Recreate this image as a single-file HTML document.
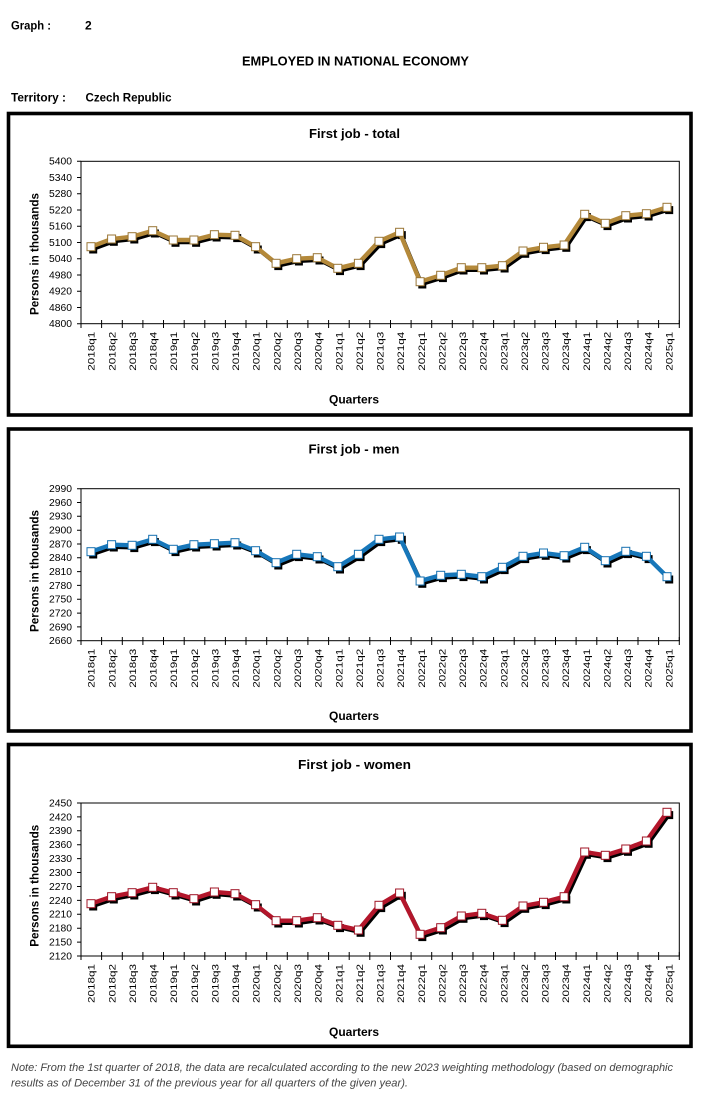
<!DOCTYPE html>
<html>
<head>
<meta charset="utf-8">
<style>
html,body{margin:0;padding:0;background:#fff;}
svg{display:block;}
text{font-family:"Liberation Sans",Arial,sans-serif;fill:#000;}
.b{font-weight:bold;}
.yt{font-size:9.8px;text-anchor:end;}
.xt{font-size:9px;text-anchor:end;}
</style>
</head>
<body>
<svg width="702" height="1093" viewBox="0 0 702 1093" xmlns="http://www.w3.org/2000/svg">
<defs>
<marker id="mk1" markerWidth="10" markerHeight="10" refX="5" refY="5" markerUnits="userSpaceOnUse"><rect x="1" y="1" width="8" height="8" fill="#fff" stroke="#9a7636" stroke-width="1"/></marker>
<marker id="mk2" markerWidth="10" markerHeight="10" refX="5" refY="5" markerUnits="userSpaceOnUse"><rect x="1" y="1" width="8" height="8" fill="#fff" stroke="#1570b0" stroke-width="1"/></marker>
<marker id="mk3" markerWidth="10" markerHeight="10" refX="5" refY="5" markerUnits="userSpaceOnUse"><rect x="1" y="1" width="8" height="8" fill="#fff" stroke="#a01426" stroke-width="1"/></marker>
<marker id="mks" markerWidth="10" markerHeight="10" refX="5" refY="5" markerUnits="userSpaceOnUse"><rect x="1" y="1" width="8" height="8" fill="#000"/></marker>
</defs>

<!-- Header -->
<text class="b" x="11" y="29.5" font-size="12" textLength="40" lengthAdjust="spacingAndGlyphs">Graph :</text>
<text class="b" x="85" y="29.5" font-size="12">2</text>
<text class="b" x="355.5" y="65.5" font-size="12.8" text-anchor="middle" textLength="227" lengthAdjust="spacingAndGlyphs">EMPLOYED IN NATIONAL ECONOMY</text>
<text class="b" x="11" y="101.5" font-size="12" textLength="55" lengthAdjust="spacingAndGlyphs">Territory :</text>
<text class="b" x="85.5" y="101.5" font-size="12" textLength="86" lengthAdjust="spacingAndGlyphs">Czech Republic</text>

<!-- Boxes -->
<rect x="8.5" y="113.5" width="682.5" height="301.5" fill="none" stroke="#000" stroke-width="3.6"/>
<rect x="8.5" y="429" width="682.5" height="302" fill="none" stroke="#000" stroke-width="3.6"/>
<rect x="8.5" y="744.5" width="682.5" height="301.8" fill="none" stroke="#000" stroke-width="3.6"/>

<!-- ================= CHART 1 ================= -->
<text class="b" x="354.5" y="138" font-size="13" text-anchor="middle" textLength="91" lengthAdjust="spacingAndGlyphs">First job - total</text>
<rect x="81" y="161.3" width="598.3" height="162.4" fill="none" stroke="#000" stroke-width="1"/>
<path d="M77 161.3H81M77 177.5H81M77 193.8H81M77 210H81M77 226.3H81M77 242.5H81M77 258.7H81M77 275H81M77 291.2H81M77 307.5H81M77 323.7H81" stroke="#000" stroke-width="1"/>
<path d="M81 320V328M101.6 320V328M122.3 320V328M142.9 320V328M163.5 320V328M184.2 320V328M204.8 320V328M225.4 320V328M246 320V328M266.7 320V328M287.3 320V328M307.9 320V328M328.6 320V328M349.2 320V328M369.8 320V328M390.5 320V328M411.1 320V328M431.7 320V328M452.3 320V328M473 320V328M493.6 320V328M514.2 320V328M534.9 320V328M555.5 320V328M576.1 320V328M596.8 320V328M617.4 320V328M638 320V328M658.6 320V328M679.3 320V328" stroke="#000" stroke-width="1"/>
<text class="yt" x="72" y="164.7" textLength="23" lengthAdjust="spacingAndGlyphs">5400</text>
<text class="yt" x="72" y="180.9" textLength="23" lengthAdjust="spacingAndGlyphs">5340</text>
<text class="yt" x="72" y="197.2" textLength="23" lengthAdjust="spacingAndGlyphs">5280</text>
<text class="yt" x="72" y="213.4" textLength="23" lengthAdjust="spacingAndGlyphs">5220</text>
<text class="yt" x="72" y="229.7" textLength="23" lengthAdjust="spacingAndGlyphs">5160</text>
<text class="yt" x="72" y="245.9" textLength="23" lengthAdjust="spacingAndGlyphs">5100</text>
<text class="yt" x="72" y="262.1" textLength="23" lengthAdjust="spacingAndGlyphs">5040</text>
<text class="yt" x="72" y="278.4" textLength="23" lengthAdjust="spacingAndGlyphs">4980</text>
<text class="yt" x="72" y="294.6" textLength="23" lengthAdjust="spacingAndGlyphs">4920</text>
<text class="yt" x="72" y="310.9" textLength="23" lengthAdjust="spacingAndGlyphs">4860</text>
<text class="yt" x="72" y="327.1" textLength="23" lengthAdjust="spacingAndGlyphs">4800</text>
<text class="b" font-size="12" text-anchor="middle" transform="translate(38.3,254) rotate(-90)" textLength="122" lengthAdjust="spacingAndGlyphs">Persons in thousands</text>
<text class="b" x="354" y="403.3" font-size="12" text-anchor="middle" textLength="50" lengthAdjust="spacingAndGlyphs">Quarters</text>
<g transform="translate(0,331.7)">
<text class="xt" transform="translate(94.7,0) rotate(-90)" textLength="39" lengthAdjust="spacingAndGlyphs">2018q1</text>
<text class="xt" transform="translate(115.3,0) rotate(-90)" textLength="39" lengthAdjust="spacingAndGlyphs">2018q2</text>
<text class="xt" transform="translate(136,0) rotate(-90)" textLength="39" lengthAdjust="spacingAndGlyphs">2018q3</text>
<text class="xt" transform="translate(156.6,0) rotate(-90)" textLength="39" lengthAdjust="spacingAndGlyphs">2018q4</text>
<text class="xt" transform="translate(177.2,0) rotate(-90)" textLength="39" lengthAdjust="spacingAndGlyphs">2019q1</text>
<text class="xt" transform="translate(197.9,0) rotate(-90)" textLength="39" lengthAdjust="spacingAndGlyphs">2019q2</text>
<text class="xt" transform="translate(218.5,0) rotate(-90)" textLength="39" lengthAdjust="spacingAndGlyphs">2019q3</text>
<text class="xt" transform="translate(239.1,0) rotate(-90)" textLength="39" lengthAdjust="spacingAndGlyphs">2019q4</text>
<text class="xt" transform="translate(259.7,0) rotate(-90)" textLength="39" lengthAdjust="spacingAndGlyphs">2020q1</text>
<text class="xt" transform="translate(280.4,0) rotate(-90)" textLength="39" lengthAdjust="spacingAndGlyphs">2020q2</text>
<text class="xt" transform="translate(301,0) rotate(-90)" textLength="39" lengthAdjust="spacingAndGlyphs">2020q3</text>
<text class="xt" transform="translate(321.6,0) rotate(-90)" textLength="39" lengthAdjust="spacingAndGlyphs">2020q4</text>
<text class="xt" transform="translate(342.3,0) rotate(-90)" textLength="39" lengthAdjust="spacingAndGlyphs">2021q1</text>
<text class="xt" transform="translate(362.9,0) rotate(-90)" textLength="39" lengthAdjust="spacingAndGlyphs">2021q2</text>
<text class="xt" transform="translate(383.5,0) rotate(-90)" textLength="39" lengthAdjust="spacingAndGlyphs">2021q3</text>
<text class="xt" transform="translate(404.2,0) rotate(-90)" textLength="39" lengthAdjust="spacingAndGlyphs">2021q4</text>
<text class="xt" transform="translate(424.8,0) rotate(-90)" textLength="39" lengthAdjust="spacingAndGlyphs">2022q1</text>
<text class="xt" transform="translate(445.4,0) rotate(-90)" textLength="39" lengthAdjust="spacingAndGlyphs">2022q2</text>
<text class="xt" transform="translate(466,0) rotate(-90)" textLength="39" lengthAdjust="spacingAndGlyphs">2022q3</text>
<text class="xt" transform="translate(486.7,0) rotate(-90)" textLength="39" lengthAdjust="spacingAndGlyphs">2022q4</text>
<text class="xt" transform="translate(507.3,0) rotate(-90)" textLength="39" lengthAdjust="spacingAndGlyphs">2023q1</text>
<text class="xt" transform="translate(527.9,0) rotate(-90)" textLength="39" lengthAdjust="spacingAndGlyphs">2023q2</text>
<text class="xt" transform="translate(548.6,0) rotate(-90)" textLength="39" lengthAdjust="spacingAndGlyphs">2023q3</text>
<text class="xt" transform="translate(569.2,0) rotate(-90)" textLength="39" lengthAdjust="spacingAndGlyphs">2023q4</text>
<text class="xt" transform="translate(589.8,0) rotate(-90)" textLength="39" lengthAdjust="spacingAndGlyphs">2024q1</text>
<text class="xt" transform="translate(610.5,0) rotate(-90)" textLength="39" lengthAdjust="spacingAndGlyphs">2024q2</text>
<text class="xt" transform="translate(631.1,0) rotate(-90)" textLength="39" lengthAdjust="spacingAndGlyphs">2024q3</text>
<text class="xt" transform="translate(651.7,0) rotate(-90)" textLength="39" lengthAdjust="spacingAndGlyphs">2024q4</text>
<text class="xt" transform="translate(672.3,0) rotate(-90)" textLength="39" lengthAdjust="spacingAndGlyphs">2025q1</text>
</g>
<g transform="translate(2.2,2.8)">
<polyline fill="none" stroke="#000" stroke-width="3" stroke-linejoin="round" marker-start="url(#mks)" marker-mid="url(#mks)" marker-end="url(#mks)" points="91.0,246.7 111.6,239.0 132.1,236.7 152.7,230.7 173.3,240.0 193.9,240.0 214.4,234.7 235.0,235.3 255.6,246.7 276.1,263.3 296.7,258.7 317.3,257.7 337.8,268.3 358.4,263.3 379.0,241.3 399.6,232.3 420.1,281.7 440.7,275.3 461.3,267.7 481.8,267.7 502.4,265.7 523.0,251.0 543.5,247.3 564.1,245.0 584.7,214.3 605.3,223.3 625.8,215.7 646.4,213.7 667.0,207.3"/>
</g>
<polyline fill="none" stroke="#b4893a" stroke-width="4.4" stroke-linejoin="round" marker-start="url(#mk1)" marker-mid="url(#mk1)" marker-end="url(#mk1)" points="91.0,246.7 111.6,239.0 132.1,236.7 152.7,230.7 173.3,240.0 193.9,240.0 214.4,234.7 235.0,235.3 255.6,246.7 276.1,263.3 296.7,258.7 317.3,257.7 337.8,268.3 358.4,263.3 379.0,241.3 399.6,232.3 420.1,281.7 440.7,275.3 461.3,267.7 481.8,267.7 502.4,265.7 523.0,251.0 543.5,247.3 564.1,245.0 584.7,214.3 605.3,223.3 625.8,215.7 646.4,213.7 667.0,207.3"/>

<!-- ================= CHART 2 ================= -->
<text class="b" x="354" y="453.6" font-size="13" text-anchor="middle" textLength="91" lengthAdjust="spacingAndGlyphs">First job - men</text>
<rect x="81" y="488.7" width="598.3" height="152" fill="none" stroke="#000" stroke-width="1"/>
<path d="M77 488.7H81M77 502.5H81M77 516.3H81M77 530.2H81M77 544H81M77 557.8H81M77 571.6H81M77 585.4H81M77 599.3H81M77 613.1H81M77 626.9H81M77 640.7H81" stroke="#000" stroke-width="1"/>
<path d="M81 637V645M101.6 637V645M122.3 637V645M142.9 637V645M163.5 637V645M184.2 637V645M204.8 637V645M225.4 637V645M246 637V645M266.7 637V645M287.3 637V645M307.9 637V645M328.6 637V645M349.2 637V645M369.8 637V645M390.5 637V645M411.1 637V645M431.7 637V645M452.3 637V645M473 637V645M493.6 637V645M514.2 637V645M534.9 637V645M555.5 637V645M576.1 637V645M596.8 637V645M617.4 637V645M638 637V645M658.6 637V645M679.3 637V645" stroke="#000" stroke-width="1"/>
<text class="yt" x="72" y="492.1" textLength="23" lengthAdjust="spacingAndGlyphs">2990</text>
<text class="yt" x="72" y="505.9" textLength="23" lengthAdjust="spacingAndGlyphs">2960</text>
<text class="yt" x="72" y="519.7" textLength="23" lengthAdjust="spacingAndGlyphs">2930</text>
<text class="yt" x="72" y="533.6" textLength="23" lengthAdjust="spacingAndGlyphs">2900</text>
<text class="yt" x="72" y="547.4" textLength="23" lengthAdjust="spacingAndGlyphs">2870</text>
<text class="yt" x="72" y="561.2" textLength="23" lengthAdjust="spacingAndGlyphs">2840</text>
<text class="yt" x="72" y="575" textLength="23" lengthAdjust="spacingAndGlyphs">2810</text>
<text class="yt" x="72" y="588.8" textLength="23" lengthAdjust="spacingAndGlyphs">2780</text>
<text class="yt" x="72" y="602.7" textLength="23" lengthAdjust="spacingAndGlyphs">2750</text>
<text class="yt" x="72" y="616.5" textLength="23" lengthAdjust="spacingAndGlyphs">2720</text>
<text class="yt" x="72" y="630.3" textLength="23" lengthAdjust="spacingAndGlyphs">2690</text>
<text class="yt" x="72" y="644.1" textLength="23" lengthAdjust="spacingAndGlyphs">2660</text>
<text class="b" font-size="12" text-anchor="middle" transform="translate(38.3,571) rotate(-90)" textLength="122" lengthAdjust="spacingAndGlyphs">Persons in thousands</text>
<text class="b" x="354" y="720" font-size="12" text-anchor="middle" textLength="50" lengthAdjust="spacingAndGlyphs">Quarters</text>
<g transform="translate(0,648.7)">
<text class="xt" transform="translate(94.7,0) rotate(-90)" textLength="39" lengthAdjust="spacingAndGlyphs">2018q1</text>
<text class="xt" transform="translate(115.3,0) rotate(-90)" textLength="39" lengthAdjust="spacingAndGlyphs">2018q2</text>
<text class="xt" transform="translate(136,0) rotate(-90)" textLength="39" lengthAdjust="spacingAndGlyphs">2018q3</text>
<text class="xt" transform="translate(156.6,0) rotate(-90)" textLength="39" lengthAdjust="spacingAndGlyphs">2018q4</text>
<text class="xt" transform="translate(177.2,0) rotate(-90)" textLength="39" lengthAdjust="spacingAndGlyphs">2019q1</text>
<text class="xt" transform="translate(197.9,0) rotate(-90)" textLength="39" lengthAdjust="spacingAndGlyphs">2019q2</text>
<text class="xt" transform="translate(218.5,0) rotate(-90)" textLength="39" lengthAdjust="spacingAndGlyphs">2019q3</text>
<text class="xt" transform="translate(239.1,0) rotate(-90)" textLength="39" lengthAdjust="spacingAndGlyphs">2019q4</text>
<text class="xt" transform="translate(259.7,0) rotate(-90)" textLength="39" lengthAdjust="spacingAndGlyphs">2020q1</text>
<text class="xt" transform="translate(280.4,0) rotate(-90)" textLength="39" lengthAdjust="spacingAndGlyphs">2020q2</text>
<text class="xt" transform="translate(301,0) rotate(-90)" textLength="39" lengthAdjust="spacingAndGlyphs">2020q3</text>
<text class="xt" transform="translate(321.6,0) rotate(-90)" textLength="39" lengthAdjust="spacingAndGlyphs">2020q4</text>
<text class="xt" transform="translate(342.3,0) rotate(-90)" textLength="39" lengthAdjust="spacingAndGlyphs">2021q1</text>
<text class="xt" transform="translate(362.9,0) rotate(-90)" textLength="39" lengthAdjust="spacingAndGlyphs">2021q2</text>
<text class="xt" transform="translate(383.5,0) rotate(-90)" textLength="39" lengthAdjust="spacingAndGlyphs">2021q3</text>
<text class="xt" transform="translate(404.2,0) rotate(-90)" textLength="39" lengthAdjust="spacingAndGlyphs">2021q4</text>
<text class="xt" transform="translate(424.8,0) rotate(-90)" textLength="39" lengthAdjust="spacingAndGlyphs">2022q1</text>
<text class="xt" transform="translate(445.4,0) rotate(-90)" textLength="39" lengthAdjust="spacingAndGlyphs">2022q2</text>
<text class="xt" transform="translate(466,0) rotate(-90)" textLength="39" lengthAdjust="spacingAndGlyphs">2022q3</text>
<text class="xt" transform="translate(486.7,0) rotate(-90)" textLength="39" lengthAdjust="spacingAndGlyphs">2022q4</text>
<text class="xt" transform="translate(507.3,0) rotate(-90)" textLength="39" lengthAdjust="spacingAndGlyphs">2023q1</text>
<text class="xt" transform="translate(527.9,0) rotate(-90)" textLength="39" lengthAdjust="spacingAndGlyphs">2023q2</text>
<text class="xt" transform="translate(548.6,0) rotate(-90)" textLength="39" lengthAdjust="spacingAndGlyphs">2023q3</text>
<text class="xt" transform="translate(569.2,0) rotate(-90)" textLength="39" lengthAdjust="spacingAndGlyphs">2023q4</text>
<text class="xt" transform="translate(589.8,0) rotate(-90)" textLength="39" lengthAdjust="spacingAndGlyphs">2024q1</text>
<text class="xt" transform="translate(610.5,0) rotate(-90)" textLength="39" lengthAdjust="spacingAndGlyphs">2024q2</text>
<text class="xt" transform="translate(631.1,0) rotate(-90)" textLength="39" lengthAdjust="spacingAndGlyphs">2024q3</text>
<text class="xt" transform="translate(651.7,0) rotate(-90)" textLength="39" lengthAdjust="spacingAndGlyphs">2024q4</text>
<text class="xt" transform="translate(672.3,0) rotate(-90)" textLength="39" lengthAdjust="spacingAndGlyphs">2025q1</text>
</g>
<g transform="translate(2.2,2.8)">
<polyline fill="none" stroke="#000" stroke-width="3" stroke-linejoin="round" marker-start="url(#mks)" marker-mid="url(#mks)" marker-end="url(#mks)" points="91.0,551.7 111.6,544.7 132.1,545.3 152.7,539.3 173.3,549.3 193.9,544.7 214.4,543.7 235.0,542.7 255.6,550.7 276.1,562.7 296.7,554.3 317.3,556.7 337.8,566.7 358.4,554.3 379.0,539.3 399.6,537.0 420.1,581.0 440.7,575.3 461.3,574.3 481.8,576.7 502.4,567.3 523.0,556.3 543.5,553.0 564.1,555.7 584.7,547.3 605.3,560.7 625.8,551.3 646.4,556.3 667.0,576.7"/>
</g>
<polyline fill="none" stroke="#1777ba" stroke-width="4.4" stroke-linejoin="round" marker-start="url(#mk2)" marker-mid="url(#mk2)" marker-end="url(#mk2)" points="91.0,551.7 111.6,544.7 132.1,545.3 152.7,539.3 173.3,549.3 193.9,544.7 214.4,543.7 235.0,542.7 255.6,550.7 276.1,562.7 296.7,554.3 317.3,556.7 337.8,566.7 358.4,554.3 379.0,539.3 399.6,537.0 420.1,581.0 440.7,575.3 461.3,574.3 481.8,576.7 502.4,567.3 523.0,556.3 543.5,553.0 564.1,555.7 584.7,547.3 605.3,560.7 625.8,551.3 646.4,556.3 667.0,576.7"/>

<!-- ================= CHART 3 ================= -->
<text class="b" x="354.5" y="769" font-size="13" text-anchor="middle" textLength="113" lengthAdjust="spacingAndGlyphs">First job - women</text>
<rect x="81" y="803" width="598.3" height="153" fill="none" stroke="#000" stroke-width="1"/>
<path d="M77 803H81M77 816.9H81M77 830.8H81M77 844.7H81M77 858.6H81M77 872.5H81M77 886.5H81M77 900.4H81M77 914.3H81M77 928.2H81M77 942.1H81M77 956H81" stroke="#000" stroke-width="1"/>
<path d="M81 952V960M101.6 952V960M122.3 952V960M142.9 952V960M163.5 952V960M184.2 952V960M204.8 952V960M225.4 952V960M246 952V960M266.7 952V960M287.3 952V960M307.9 952V960M328.6 952V960M349.2 952V960M369.8 952V960M390.5 952V960M411.1 952V960M431.7 952V960M452.3 952V960M473 952V960M493.6 952V960M514.2 952V960M534.9 952V960M555.5 952V960M576.1 952V960M596.8 952V960M617.4 952V960M638 952V960M658.6 952V960M679.3 952V960" stroke="#000" stroke-width="1"/>
<text class="yt" x="72" y="806.4" textLength="23" lengthAdjust="spacingAndGlyphs">2450</text>
<text class="yt" x="72" y="820.3" textLength="23" lengthAdjust="spacingAndGlyphs">2420</text>
<text class="yt" x="72" y="834.2" textLength="23" lengthAdjust="spacingAndGlyphs">2390</text>
<text class="yt" x="72" y="848.1" textLength="23" lengthAdjust="spacingAndGlyphs">2360</text>
<text class="yt" x="72" y="862" textLength="23" lengthAdjust="spacingAndGlyphs">2330</text>
<text class="yt" x="72" y="875.9" textLength="23" lengthAdjust="spacingAndGlyphs">2300</text>
<text class="yt" x="72" y="889.9" textLength="23" lengthAdjust="spacingAndGlyphs">2270</text>
<text class="yt" x="72" y="903.8" textLength="23" lengthAdjust="spacingAndGlyphs">2240</text>
<text class="yt" x="72" y="917.7" textLength="23" lengthAdjust="spacingAndGlyphs">2210</text>
<text class="yt" x="72" y="931.6" textLength="23" lengthAdjust="spacingAndGlyphs">2180</text>
<text class="yt" x="72" y="945.5" textLength="23" lengthAdjust="spacingAndGlyphs">2150</text>
<text class="yt" x="72" y="959.4" textLength="23" lengthAdjust="spacingAndGlyphs">2120</text>
<text class="b" font-size="12" text-anchor="middle" transform="translate(38.3,885.8) rotate(-90)" textLength="122" lengthAdjust="spacingAndGlyphs">Persons in thousands</text>
<text class="b" x="354" y="1036" font-size="12" text-anchor="middle" textLength="50" lengthAdjust="spacingAndGlyphs">Quarters</text>
<g transform="translate(0,964)">
<text class="xt" transform="translate(94.7,0) rotate(-90)" textLength="39" lengthAdjust="spacingAndGlyphs">2018q1</text>
<text class="xt" transform="translate(115.3,0) rotate(-90)" textLength="39" lengthAdjust="spacingAndGlyphs">2018q2</text>
<text class="xt" transform="translate(136,0) rotate(-90)" textLength="39" lengthAdjust="spacingAndGlyphs">2018q3</text>
<text class="xt" transform="translate(156.6,0) rotate(-90)" textLength="39" lengthAdjust="spacingAndGlyphs">2018q4</text>
<text class="xt" transform="translate(177.2,0) rotate(-90)" textLength="39" lengthAdjust="spacingAndGlyphs">2019q1</text>
<text class="xt" transform="translate(197.9,0) rotate(-90)" textLength="39" lengthAdjust="spacingAndGlyphs">2019q2</text>
<text class="xt" transform="translate(218.5,0) rotate(-90)" textLength="39" lengthAdjust="spacingAndGlyphs">2019q3</text>
<text class="xt" transform="translate(239.1,0) rotate(-90)" textLength="39" lengthAdjust="spacingAndGlyphs">2019q4</text>
<text class="xt" transform="translate(259.7,0) rotate(-90)" textLength="39" lengthAdjust="spacingAndGlyphs">2020q1</text>
<text class="xt" transform="translate(280.4,0) rotate(-90)" textLength="39" lengthAdjust="spacingAndGlyphs">2020q2</text>
<text class="xt" transform="translate(301,0) rotate(-90)" textLength="39" lengthAdjust="spacingAndGlyphs">2020q3</text>
<text class="xt" transform="translate(321.6,0) rotate(-90)" textLength="39" lengthAdjust="spacingAndGlyphs">2020q4</text>
<text class="xt" transform="translate(342.3,0) rotate(-90)" textLength="39" lengthAdjust="spacingAndGlyphs">2021q1</text>
<text class="xt" transform="translate(362.9,0) rotate(-90)" textLength="39" lengthAdjust="spacingAndGlyphs">2021q2</text>
<text class="xt" transform="translate(383.5,0) rotate(-90)" textLength="39" lengthAdjust="spacingAndGlyphs">2021q3</text>
<text class="xt" transform="translate(404.2,0) rotate(-90)" textLength="39" lengthAdjust="spacingAndGlyphs">2021q4</text>
<text class="xt" transform="translate(424.8,0) rotate(-90)" textLength="39" lengthAdjust="spacingAndGlyphs">2022q1</text>
<text class="xt" transform="translate(445.4,0) rotate(-90)" textLength="39" lengthAdjust="spacingAndGlyphs">2022q2</text>
<text class="xt" transform="translate(466,0) rotate(-90)" textLength="39" lengthAdjust="spacingAndGlyphs">2022q3</text>
<text class="xt" transform="translate(486.7,0) rotate(-90)" textLength="39" lengthAdjust="spacingAndGlyphs">2022q4</text>
<text class="xt" transform="translate(507.3,0) rotate(-90)" textLength="39" lengthAdjust="spacingAndGlyphs">2023q1</text>
<text class="xt" transform="translate(527.9,0) rotate(-90)" textLength="39" lengthAdjust="spacingAndGlyphs">2023q2</text>
<text class="xt" transform="translate(548.6,0) rotate(-90)" textLength="39" lengthAdjust="spacingAndGlyphs">2023q3</text>
<text class="xt" transform="translate(569.2,0) rotate(-90)" textLength="39" lengthAdjust="spacingAndGlyphs">2023q4</text>
<text class="xt" transform="translate(589.8,0) rotate(-90)" textLength="39" lengthAdjust="spacingAndGlyphs">2024q1</text>
<text class="xt" transform="translate(610.5,0) rotate(-90)" textLength="39" lengthAdjust="spacingAndGlyphs">2024q2</text>
<text class="xt" transform="translate(631.1,0) rotate(-90)" textLength="39" lengthAdjust="spacingAndGlyphs">2024q3</text>
<text class="xt" transform="translate(651.7,0) rotate(-90)" textLength="39" lengthAdjust="spacingAndGlyphs">2024q4</text>
<text class="xt" transform="translate(672.3,0) rotate(-90)" textLength="39" lengthAdjust="spacingAndGlyphs">2025q1</text>
</g>
<g transform="translate(2.2,2.8)">
<polyline fill="none" stroke="#000" stroke-width="3" stroke-linejoin="round" marker-start="url(#mks)" marker-mid="url(#mks)" marker-end="url(#mks)" points="91.0,903.7 111.6,896.7 132.1,892.7 152.7,887.3 173.3,892.7 193.9,898.7 214.4,892.0 235.0,893.7 255.6,904.7 276.1,920.7 296.7,920.7 317.3,917.7 337.8,925.3 358.4,930.0 379.0,905.3 399.6,893.0 420.1,934.3 440.7,927.7 461.3,916.0 481.8,913.3 502.4,920.3 523.0,906.0 543.5,902.3 564.1,896.7 584.7,852.0 605.3,855.3 625.8,849.0 646.4,841.0 667.0,812.3"/>
</g>
<polyline fill="none" stroke="#b3162b" stroke-width="4.4" stroke-linejoin="round" marker-start="url(#mk3)" marker-mid="url(#mk3)" marker-end="url(#mk3)" points="91.0,903.7 111.6,896.7 132.1,892.7 152.7,887.3 173.3,892.7 193.9,898.7 214.4,892.0 235.0,893.7 255.6,904.7 276.1,920.7 296.7,920.7 317.3,917.7 337.8,925.3 358.4,930.0 379.0,905.3 399.6,893.0 420.1,934.3 440.7,927.7 461.3,916.0 481.8,913.3 502.4,920.3 523.0,906.0 543.5,902.3 564.1,896.7 584.7,852.0 605.3,855.3 625.8,849.0 646.4,841.0 667.0,812.3"/>

<!-- Note -->
<text x="11" y="1071" font-size="11" font-style="italic" style="fill:#444" textLength="662" lengthAdjust="spacingAndGlyphs">Note: From the 1st quarter of 2018, the data are recalculated according to the new 2023 weighting methodology (based on demographic</text>
<text x="11" y="1086.5" font-size="11" font-style="italic" style="fill:#444" textLength="397" lengthAdjust="spacingAndGlyphs">results as of December 31 of the previous year for all quarters of the given year).</text>
</svg>
</body>
</html>
